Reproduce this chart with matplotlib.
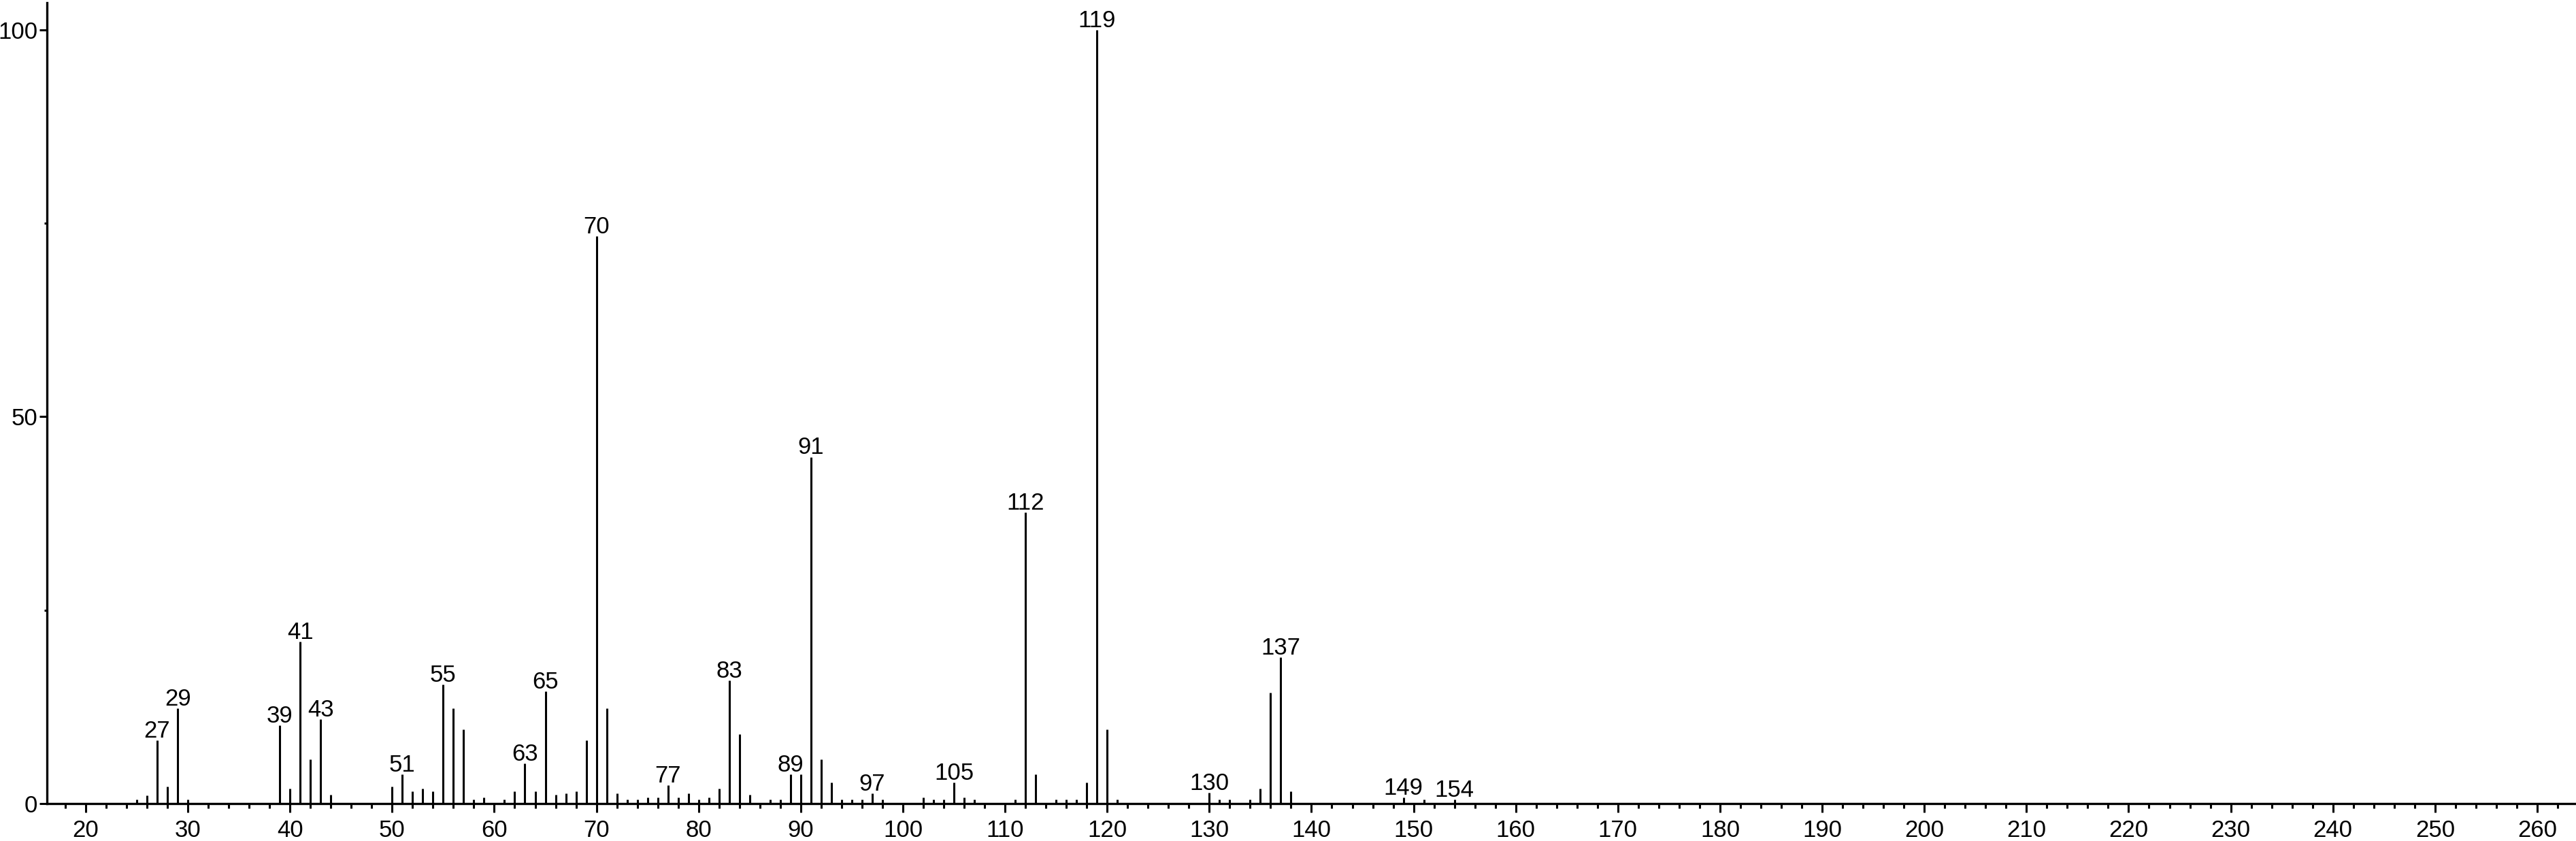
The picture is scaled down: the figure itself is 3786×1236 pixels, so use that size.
import numpy as np
from matplotlib import pyplot as plt
from matplotlib.ticker import MultipleLocator, FixedLocator

# mass spectrum: m/z and relative intensity (%)
mz = [25, 26, 27, 28, 29, 30,
      39, 40, 41, 42, 43, 44,
      50, 51, 52, 53, 54, 55, 56, 57, 58, 59,
      61, 62, 63, 64, 65, 66, 67, 68, 69, 70, 71, 72, 73, 74, 75, 76, 77, 78, 79,
      80, 81, 82, 83, 84, 85, 87, 88, 89, 90, 91, 92, 93, 94, 95, 96, 97, 98,
      102, 103, 104, 105, 106, 107, 111, 112, 113, 115, 116, 117, 118, 119, 120, 121,
      130, 131, 132, 134, 135, 136, 137, 138,
      149, 151, 154]
intensity = [0.5, 1.05, 8.2, 2.2, 12.3, 0.5,
             10.1, 1.9, 20.9, 5.75, 10.9, 1.1,
             2.2, 3.8, 1.6, 1.9, 1.6, 15.4, 12.3, 9.6, 0.5, 0.8,
             0.5, 1.6, 5.2, 1.6, 14.5, 1.1, 1.3, 1.6, 8.2, 73.3, 12.3, 1.3, 0.5, 0.5, 0.8, 0.8, 2.4, 0.8, 1.3,
             0.5, 0.8, 1.9, 15.9, 9.0, 1.1, 0.5, 0.5, 3.8, 3.8, 44.8, 5.7, 2.7, 0.5, 0.5, 0.5, 1.3, 0.5,
             0.8, 0.5, 0.5, 2.7, 0.8, 0.5, 0.5, 37.6, 3.8, 0.5, 0.5, 0.5, 2.7, 100, 9.6, 0.5,
             1.4, 0.5, 0.5, 0.5, 1.9, 14.3, 18.9, 1.6,
             0.8, 0.5, 0.5]

# peaks that carry a label
labeled = [27, 29, 39, 41, 43, 51, 55, 63, 65, 70, 77, 83, 89, 91, 97, 105,
           112, 119, 130, 137, 149, 154]

plt.rcParams['font.family'] = ['Liberation Sans', 'DejaVu Sans']

fig = plt.figure(figsize=(37.86, 12.36), dpi=100)
ax = fig.add_axes([0.0182, 0.0445, 0.9818, 0.9523])

ax.vlines(mz, 0, intensity, colors='black', linewidth=2.2)

peaks = dict(zip(mz, intensity))
for m in labeled:
    ax.annotate(str(m), (m, peaks[m]), xytext=(0, 3), textcoords='offset points',
                ha='center', va='baseline', fontsize=25)

ax.set_xlim(16.2, 263.8)
ax.set_ylim(0, 103.5)

for s in ['top', 'right']:
    ax.spines[s].set_visible(False)
for s in ['left', 'bottom']:
    ax.spines[s].set_linewidth(2.4)

ax.xaxis.set_major_locator(MultipleLocator(10))
ax.xaxis.set_minor_locator(MultipleLocator(2))
ax.yaxis.set_major_locator(FixedLocator([0, 50, 100]))
ax.yaxis.set_minor_locator(FixedLocator([25, 75]))

ax.tick_params(axis='x', which='major', length=9.5, width=2.2, pad=7, labelsize=25)
ax.tick_params(axis='x', which='minor', length=5, width=2.2)
ax.tick_params(axis='y', which='major', length=8, width=2.2, pad=2, labelsize=25)
ax.tick_params(axis='y', which='minor', length=3, width=2.2)

fig.savefig('out.png', dpi=100)
